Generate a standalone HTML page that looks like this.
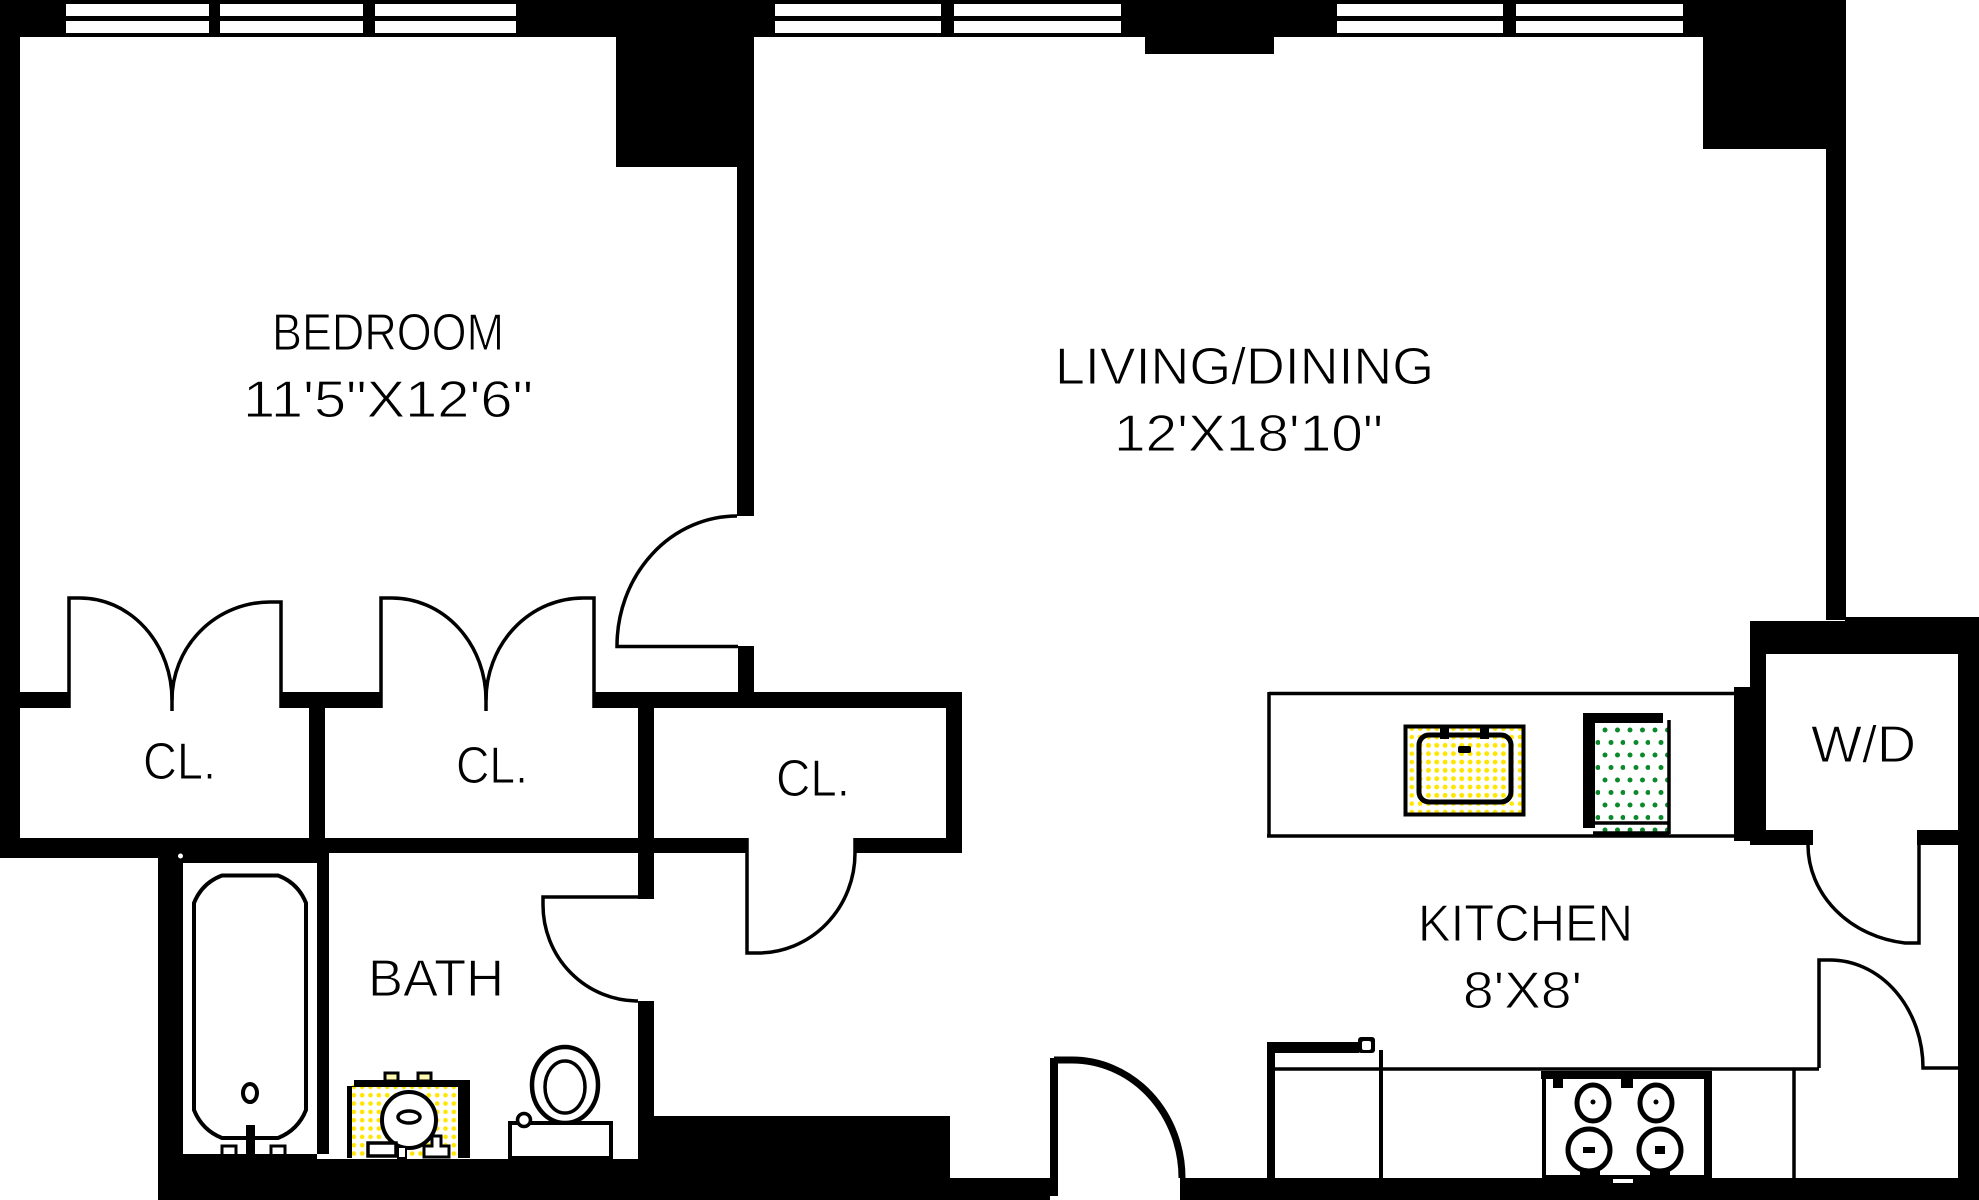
<!DOCTYPE html>
<html><head><meta charset="utf-8"><title>Floor plan</title>
<style>html,body{margin:0;padding:0;background:#fff}svg{display:block}text{font-family:"Liberation Sans",sans-serif;font-size:52px;fill:#000;stroke:#fff;stroke-width:1px}</style></head>
<body>
<svg width="1979" height="1200" viewBox="0 0 1979 1200" xmlns="http://www.w3.org/2000/svg">
<defs>
<pattern id="y" width="8.33" height="8.33" patternUnits="userSpaceOnUse"><circle cx="4" cy="4" r="2.3" fill="#ffe600"/></pattern>
<pattern id="g" width="25" height="25" patternUnits="userSpaceOnUse"><circle cx="5" cy="5" r="2.5" fill="#0a8a2a"/><circle cx="17.5" cy="5" r="2.5" fill="#0a8a2a"/><circle cx="11" cy="17.5" r="2.5" fill="#0a8a2a"/><circle cx="23" cy="17.5" r="2.5" fill="#0a8a2a"/></pattern>
</defs>
<rect width="1979" height="1200" fill="#fff"/>
<g fill="#000">
<rect x="0" y="0" width="1846" height="37"/>
<rect x="0" y="0" width="20" height="858"/>
<rect x="0" y="838" width="747" height="15"/>
<rect x="0" y="853" width="159" height="5"/>
<rect x="158" y="838" width="171" height="25"/>
<rect x="158" y="853" width="25" height="347"/>
<rect x="317" y="853" width="12" height="301"/>
<rect x="158" y="1159" width="792" height="41"/>
<rect x="183" y="1154" width="134" height="6"/>
<rect x="638" y="708" width="16" height="191"/>
<rect x="638" y="1001" width="16" height="160"/>
<rect x="654" y="1116" width="296" height="84"/>
<rect x="950" y="1178" width="100" height="22"/>
<rect x="20" y="692" width="49" height="16"/>
<rect x="281" y="692" width="100" height="16"/>
<rect x="594" y="692" width="368" height="16"/>
<rect x="946" y="692" width="16" height="161"/>
<rect x="855" y="838" width="107" height="15"/>
<rect x="309" y="708" width="16" height="130"/>
<rect x="738" y="646" width="16" height="46"/>
<rect x="737" y="0" width="17" height="516"/>
<rect x="616" y="0" width="138" height="167"/>
<rect x="1145" y="0" width="129" height="54"/>
<rect x="1703" y="0" width="143" height="149"/>
<rect x="1826" y="0" width="20" height="620"/>
<rect x="1750" y="621" width="229" height="33"/>
<rect x="1845" y="617" width="134" height="37"/>
<rect x="1750" y="621" width="16" height="224"/>
<rect x="1734" y="687" width="16" height="154"/>
<rect x="1750" y="830" width="63" height="15"/>
<rect x="1917" y="830" width="41" height="15"/>
<rect x="1958" y="617" width="21" height="583"/>
<rect x="1180" y="1178" width="799" height="22"/>
<rect x="1050" y="1058" width="8" height="138"/>
</g>
<g fill="#fff">
<rect x="66" y="4" width="143" height="12"/><rect x="66" y="21" width="143" height="12"/>
<rect x="220" y="4" width="143" height="12"/><rect x="220" y="21" width="143" height="12"/>
<rect x="375" y="4" width="141" height="12"/><rect x="375" y="21" width="141" height="12"/>
<rect x="775" y="4" width="166" height="12"/><rect x="775" y="21" width="166" height="12"/>
<rect x="954" y="4" width="167" height="12"/><rect x="954" y="21" width="167" height="12"/>
<rect x="1337" y="4" width="166" height="12"/><rect x="1337" y="21" width="166" height="12"/>
<rect x="1516" y="4" width="167" height="12"/><rect x="1516" y="21" width="167" height="12"/>
<circle cx="180.500" cy="856" r="2.500"/>
</g>
<g fill="none" stroke="#000" stroke-width="3.500">
<path d="M738 646.500H617A120 130 0 0 1 737 516"/>
<path d="M69 708V598H80A92 102 0 0 1 172 700M172 680V711"/>
<path d="M281 708V602H270A98 98 0 0 0 172 700"/>
<path d="M381 708V598H392A94 102 0 0 1 486 700M486 680V711"/>
<path d="M594 708V598H583A97 102 0 0 0 486 700"/>
<path d="M747 838V953H758A97 100 0 0 0 855 853V838"/>
<path d="M638 897H543V905A95 96 0 0 0 638 1001"/>
<path d="M1808 845A111 99 0 0 0 1905 943H1919V845"/>
<path d="M1819 1068V960H1830A93 108 0 0 1 1923 1068H1958"/>
<path d="M1054 1060H1072A110 118 0 0 1 1182 1178" stroke-width="7"/>
<path d="M1269 693.500H1734M1269 692V837M1267 836H1734" stroke-width="3.500"/>
<path d="M1267 1069H1819M1794 1068V1180" />
<path d="M1381 1050V1180" stroke-width="4"/>
<path d="M1544 1071V1180" stroke-width="4"/>
<path d="M194 1110V903Q202 883 222 875.500H278Q298 883 306 903V1110Q298 1130 278 1138H222Q202 1130 194 1110Z" stroke-width="4"/>
</g>
<g fill="#000">
<rect x="1267" y="1042" width="8" height="138"/>
<rect x="1267" y="1042" width="92" height="11"/>
<rect x="1358" y="1037" width="17" height="16" rx="3"/>
<rect x="1704" y="1078" width="8" height="102"/>
<rect x="1541" y="1071" width="171" height="8"/>
<rect x="1545" y="1175" width="160" height="5"/>
<rect x="1553" y="1078" width="10" height="10"/>
<rect x="1621" y="1078" width="12" height="10"/>
<rect x="1580" y="1170" width="20" height="10"/><rect x="1650" y="1170" width="20" height="10"/>
<rect x="246" y="1125" width="9" height="30"/>
</g>
<rect x="1613" y="1179" width="20" height="4" fill="#fff"/>
<rect x="1362" y="1041" width="9" height="9" rx="2" fill="#fff"/>
<g fill="#fff" stroke="#000" stroke-width="5">
<ellipse cx="1593" cy="1103" rx="16" ry="18"/><ellipse cx="1656" cy="1103" rx="16" ry="18"/>
<ellipse cx="1589" cy="1150" rx="21" ry="21"/><ellipse cx="1660" cy="1150" rx="21" ry="21"/>
</g>
<g fill="#000"><circle cx="1593" cy="1102" r="2.500"/><circle cx="1656" cy="1102" r="2.500"/><rect x="1583" y="1147" width="12" height="6"/><rect x="1655" y="1146" width="10" height="8"/></g>
<ellipse cx="250" cy="1093" rx="7" ry="9" fill="#fff" stroke="#000" stroke-width="4"/>
<g fill="none" stroke="#000" stroke-width="3"><path d="M222 1155V1146H236V1155M271 1155V1146H285V1155"/></g>
<!-- bath sink -->
<rect x="349" y="1083" width="119" height="75" fill="url(#y)"/>
<path d="M347 1158V1086H354V1080H470V1158H458V1087H352V1158Z" fill="#000"/>
<rect x="385" y="1073" width="13" height="8" fill="#fff8b0" stroke="#000" stroke-width="3"/>
<rect x="418" y="1073" width="13" height="8" fill="#fff8b0" stroke="#000" stroke-width="3"/>
<ellipse cx="409" cy="1120" rx="27" ry="28" fill="#fff" stroke="#000" stroke-width="4"/>
<ellipse cx="409" cy="1117" rx="11" ry="6" fill="#fff" stroke="#000" stroke-width="3.500"/>
<rect x="368" y="1143" width="28" height="13" fill="#fff" stroke="#000" stroke-width="3.500"/>
<rect x="398" y="1147" width="8" height="11" fill="#fff" stroke="#000" stroke-width="2"/>
<path d="M424 1146H432V1136H441V1146H449V1157H424Z" fill="#fff" stroke="#000" stroke-width="3"/>
<!-- toilet -->
<ellipse cx="565" cy="1085" rx="33" ry="38" fill="#fff" stroke="#000" stroke-width="4.500"/>
<ellipse cx="565" cy="1087" rx="20" ry="26" fill="#fff" stroke="#000" stroke-width="3.500"/>
<rect x="510" y="1123" width="101" height="35" fill="#fff" stroke="#000" stroke-width="4"/>
<circle cx="524" cy="1120" r="6.500" fill="#fff" stroke="#000" stroke-width="3.500"/>
<!-- kitchen sink -->
<rect x="1405.500" y="726.500" width="118" height="88" fill="url(#y)" stroke="#000" stroke-width="4"/>
<rect x="1419" y="735" width="92" height="67" rx="10" fill="url(#y)" stroke="#000" stroke-width="5"/>
<rect x="1440" y="727" width="9" height="12" fill="#000"/><rect x="1480" y="727" width="9" height="12" fill="#000"/>
<rect x="1458" y="746" width="13" height="7" fill="#000" rx="2"/>
<!-- dishwasher -->
<rect x="1595" y="723" width="74" height="110" fill="url(#g)"/>
<path d="M1583 713H1663V723H1595V828H1583Z" fill="#000"/>
<path d="M1669 720V834M1594 823H1668M1593 833H1669" fill="none" stroke="#000" stroke-width="3.500"/>
<!-- labels -->
<text x="272" y="350" textLength="232" lengthAdjust="spacingAndGlyphs">BEDROOM</text>
<text x="243" y="417" textLength="290" lengthAdjust="spacingAndGlyphs">11'5"X12'6"</text>
<text x="1055" y="384" textLength="379" lengthAdjust="spacingAndGlyphs">LIVING/DINING</text>
<text x="1114" y="451" textLength="269" lengthAdjust="spacingAndGlyphs">12'X18'10"</text>
<text x="1418" y="941" textLength="215" lengthAdjust="spacingAndGlyphs">KITCHEN</text>
<text x="1463" y="1008" textLength="119" lengthAdjust="spacingAndGlyphs">8'X8'</text>
<text x="1811" y="762" textLength="105" lengthAdjust="spacingAndGlyphs">W/D</text>
<text x="143" y="779" textLength="73" lengthAdjust="spacingAndGlyphs">CL.</text>
<text x="456" y="783" textLength="72" lengthAdjust="spacingAndGlyphs">CL.</text>
<text x="776" y="796" textLength="74" lengthAdjust="spacingAndGlyphs">CL.</text>
<text x="368" y="996" textLength="136" lengthAdjust="spacingAndGlyphs">BATH</text>
</svg>
</body></html>
